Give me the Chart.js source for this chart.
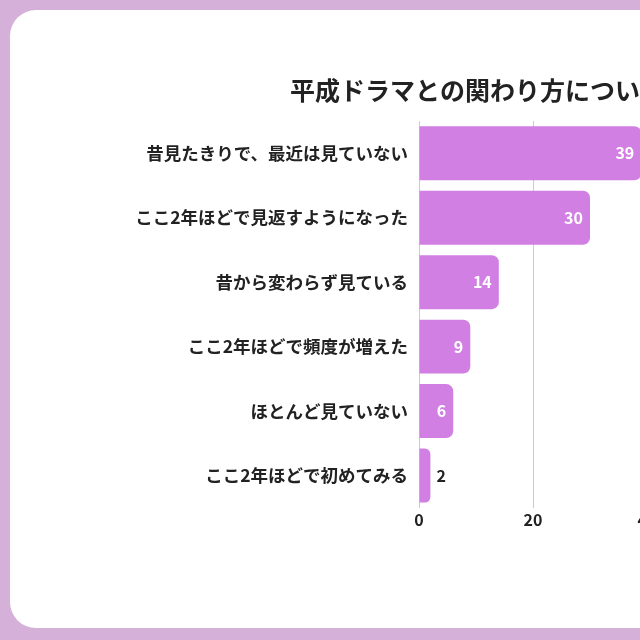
<!DOCTYPE html>
<html>
<head>
<meta charset="utf-8">
<script src="https://cdn.jsdelivr.net/npm/chart.js@4"></script>
<style>
  html, body { margin: 0; padding: 0; }
  body { width: 640px; height: 640px; overflow: hidden; background: #d5b0d9; position: relative; }
  .card { position: absolute; left: 10px; top: 10px; width: 960px; height: 618px; background: #fff; border-radius: 26px; overflow: hidden; }
  canvas { position: absolute; left: 0; top: 0; }
</style>
</head>
<body>
<div class="card">
  <canvas id="chart" width="920" height="618" style="width:920px;height:618px"></canvas>
</div>
<script>
const titleText = '平成ドラマとの関わり方について';
const categories = [
  '昔見たきりで、最近は見ていない',
  'ここ2年ほどで見返すようになった',
  '昔から変わらず見ている',
  'ここ2年ほどで頻度が増えた',
  'ほとんど見ていない',
  'ここ2年ほどで初めてみる'
];
const counts = [39, 30, 14, 9, 6, 2];
const xTicks = [0, 20, 40];

const FONT = '"Noto Sans CJK JP", "Noto Sans", sans-serif';
const barColor = '#d17fe3';

// value labels: inside the bar end in white, outside in dark when the bar is short
const valueLabels = {
  id: 'valueLabels',
  afterDatasetsDraw(chart) {
    const ctx = chart.ctx;
    const meta = chart.getDatasetMeta(0);
    ctx.save();
    ctx.font = 'bold 16px ' + FONT;
    ctx.textBaseline = 'middle';
    meta.data.forEach((bar, i) => {
      const v = counts[i];
      if (v >= 5) {
        ctx.fillStyle = '#ffffff';
        ctx.textAlign = 'right';
        ctx.fillText(String(v), bar.x - 7, bar.y);
      } else {
        ctx.fillStyle = '#222222';
        ctx.textAlign = 'left';
        ctx.fillText(String(v), bar.x + 6, bar.y);
      }
    });
    ctx.restore();
  }
};

// the title starts well right of the canvas edge, so nudge its box
const titleShift = {
  id: 'titleShift',
  afterLayout(chart) {
    const t = chart.titleBlock;
    if (t) { t.left += 280; t.right += 280; }
  }
};

new Chart(document.getElementById('chart').getContext('2d'), {
  type: 'bar',
  data: {
    labels: categories,
    datasets: [{
      data: counts,
      backgroundColor: barColor,
      borderWidth: 0,
      borderRadius: 7,
      borderSkipped: 'start',
      barPercentage: 0.915,
      categoryPercentage: 0.915
    }]
  },
  options: {
    indexAxis: 'y',
    responsive: false,
    animation: false,
    devicePixelRatio: 1,
    layout: { padding: { top: 59, right: 283, bottom: 95, left: 0 } },
    scales: {
      x: {
        min: 0,
        max: 40,
        afterBuildTicks: s => { s.ticks = xTicks.map(v => ({ value: v })); },
        grid: { color: '#cccccc', lineWidth: 1, drawTicks: false },
        border: { display: false },
        ticks: { color: '#222', padding: 3, font: { family: FONT, size: 16, weight: 'bold' } }
      },
      y: {
        afterFit: s => { s.width = 409; },
        grid: { display: false, drawTicks: false },
        border: { display: true, color: '#cccccc', width: 1 },
        ticks: { color: '#222', padding: 11, font: { family: FONT, size: 17.5, weight: 'bold' } }
      }
    },
    plugins: {
      legend: { display: false },
      tooltip: { enabled: false },
      title: {
        display: true,
        align: 'start',
        text: titleText,
        color: '#222',
        padding: { top: 6, bottom: 16 },
        font: { family: FONT, size: 25, weight: 'bold' }
      }
    }
  },
  plugins: [valueLabels, titleShift]
});
</script>
</body>
</html>
